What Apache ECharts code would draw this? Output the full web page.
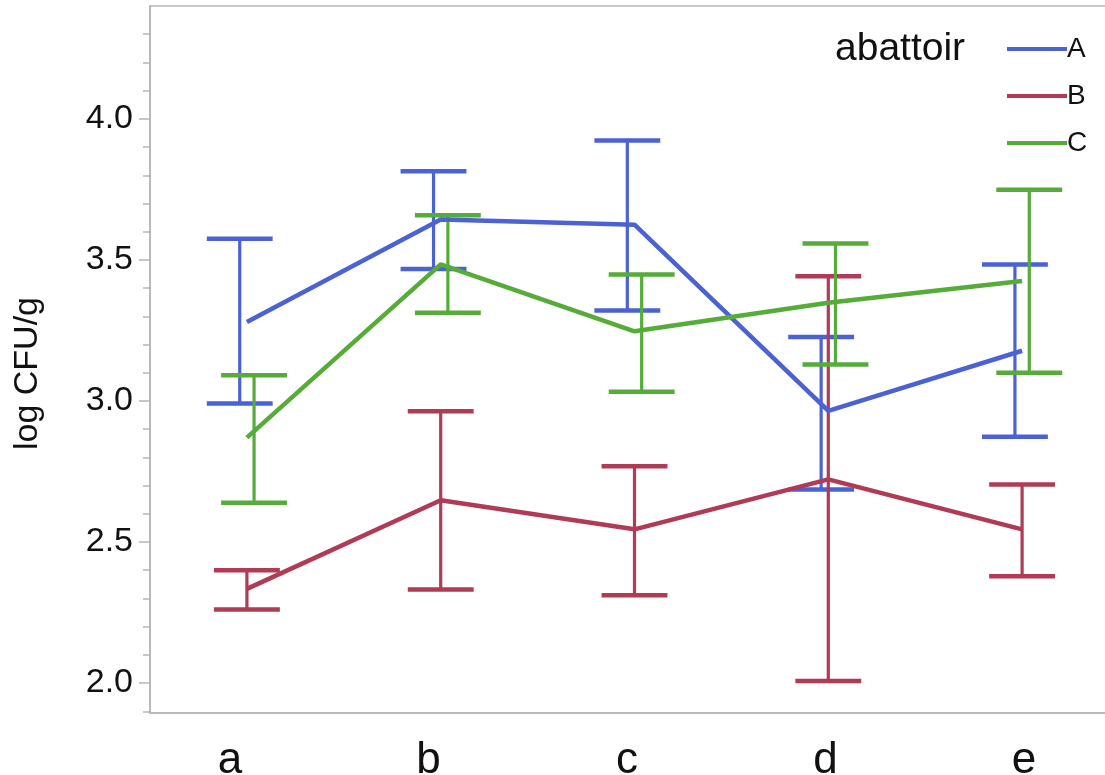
<!DOCTYPE html>
<html>
<head>
<meta charset="utf-8">
<script src="https://cdn.jsdelivr.net/npm/echarts@6/dist/echarts.min.js"></script>
<style>html,body{margin:0;padding:0;background:#fff;width:1105px;height:775px;overflow:hidden;}#c{width:1130px;height:800px;}</style>
</head>
<body>
<div id="c"></div>
<script>
const categories = ['a', 'b', 'c', 'd', 'e'];
const seriesNames = ['A', 'B', 'C'];
const A_mean  = [3.280, 3.643, 3.625, 2.965, 3.178];
const A_upper = [3.575, 3.814, 3.923, 3.227, 3.484];
const A_lower = [2.991, 3.468, 3.321, 2.686, 2.873];
const B_mean  = [2.334, 2.648, 2.545, 2.722, 2.545];
const B_upper = [2.400, 2.964, 2.769, 3.442, 2.704];
const B_lower = [2.261, 2.332, 2.311, 2.007, 2.379];
const C_mean  = [2.870, 3.484, 3.247, 3.348, 3.425];
const C_upper = [3.091, 3.658, 3.448, 3.558, 3.749];
const C_lower = [2.639, 3.313, 3.033, 3.129, 3.100];
const yMajorTicks = [2.0, 2.5, 3.0, 3.5, 4.0];
const yMinorTicks = [1.9, 2.1, 2.2, 2.3, 2.4, 2.6, 2.7, 2.8, 2.9, 3.1, 3.2, 3.3, 3.4, 3.6, 3.7, 3.8, 3.9, 4.1, 4.2, 4.3];
const yMin = 1.894, yMax = 4.40;

const colors = ['#4a62d4', '#b13a55', '#55ac38'];
const means = [A_mean, B_mean, C_mean];
const uppers = [A_upper, B_upper, C_upper];
const lowers = [A_lower, B_lower, C_lower];
const barOffsets = [-0.037, 0, 0.037];
const FONT = 'Liberation Sans, Arial, sans-serif';

const chart = echarts.init(document.getElementById('c'));

const series = [];
seriesNames.forEach((name, k) => {
  series.push({
    name: name, type: 'line', xAxisIndex: 0, yAxisIndex: 0,
    data: means[k], showSymbol: false, symbol: 'none',
    lineStyle: { color: colors[k], width: 4.5 }, itemStyle: { color: colors[k] },
    z: 3, silent: true, animation: false
  });
});
seriesNames.forEach((name, k) => {
  series.push({
    name: name + ' err', type: 'custom', xAxisIndex: 0, yAxisIndex: 0,
    data: categories.map((c, i) => [i, lowers[k][i], uppers[k][i]]),
    z: 2, silent: true, animation: false,
    renderItem: function (params, api) {
      const band = api.size([1, 0])[0];
      const off = barOffsets[k] * band;
      const half = 0.17 * band;
      const pHi = api.coord([api.value(0), api.value(2)]);
      const pLo = api.coord([api.value(0), api.value(1)]);
      const x = pHi[0] + off;
      const st = { stroke: colors[k], lineWidth: 4.5 };
      return {
        type: 'group',
        children: [
          { type: 'line', shape: { x1: x, y1: pHi[1], x2: x, y2: pLo[1] }, style: { stroke: colors[k], lineWidth: 3.2 } },
          { type: 'line', shape: { x1: x - half, y1: pHi[1], x2: x + half, y2: pHi[1] }, style: st },
          { type: 'line', shape: { x1: x - half, y1: pLo[1], x2: x + half, y2: pLo[1] }, style: st }
        ]
      };
    }
  });
});

const option = {
  backgroundColor: '#ffffff',
  animation: false,
  title: {
    text: 'abattoir', left: 830, top: 25,
    textStyle: { fontFamily: FONT, fontSize: 39, fontWeight: 'normal', color: '#111' }
  },
  legend: {
    data: seriesNames, orient: 'vertical', left: 1002, top: 29,
    icon: 'rect', itemWidth: 60, itemHeight: 4, itemGap: 17,
    textStyle: { fontFamily: FONT, fontSize: 28, color: '#111', lineHeight: 30, padding: [0, 0, 0, -5] },
    selectedMode: false
  },
  grid: [
    { left: 150, right: 11, top: 6, bottom: 87, show: true, borderColor: '#b5b5b5', borderWidth: 1.5, backgroundColor: 'transparent' },
    { left: 130.75, right: 6.75, top: 6, bottom: 87, show: false }
  ],
  xAxis: [
    {
      type: 'category', data: categories, gridIndex: 0, boundaryGap: true,
      axisLine: { show: true, lineStyle: { color: '#b5b5b5', width: 1.5 } },
      axisTick: { show: false }, axisLabel: { show: false }, splitLine: { show: false }
    },
    {
      type: 'category', data: categories, gridIndex: 1, boundaryGap: true,
      axisLine: { show: false }, axisTick: { show: false }, splitLine: { show: false },
      axisLabel: { show: true, margin: 26, fontFamily: FONT, fontSize: 44, color: '#111' }
    }
  ],
  yAxis: [
    {
      type: 'value', gridIndex: 0, min: yMin, max: yMax,
      name: 'log CFU/g', nameLocation: 'middle', nameGap: 105, nameRotate: 90,
      nameTextStyle: { fontFamily: FONT, fontSize: 34, color: '#111', padding: [0, 28, 0, 0] },
      axisLine: { show: true, lineStyle: { color: '#b5b5b5', width: 1.5 } },
      axisTick: { show: true, length: 11, customValues: yMajorTicks, lineStyle: { color: '#b5b5b5', width: 1.5 } },
      axisLabel: { show: true, customValues: yMajorTicks, margin: 17, fontFamily: FONT, fontSize: 34, color: '#111',
        formatter: v => v.toFixed(1) },
      splitLine: { show: false }
    },
    {
      type: 'value', gridIndex: 0, min: yMin, max: yMax, position: 'left',
      axisLine: { show: false },
      axisTick: { show: true, length: 7, customValues: yMinorTicks, lineStyle: { color: '#b5b5b5', width: 1.5 } },
      axisLabel: { show: false }, splitLine: { show: false }
    },
    { type: 'value', gridIndex: 1, min: 0, max: 1, show: false }
  ],
  series: series
};
chart.setOption(option);
</script>
</body>
</html>
